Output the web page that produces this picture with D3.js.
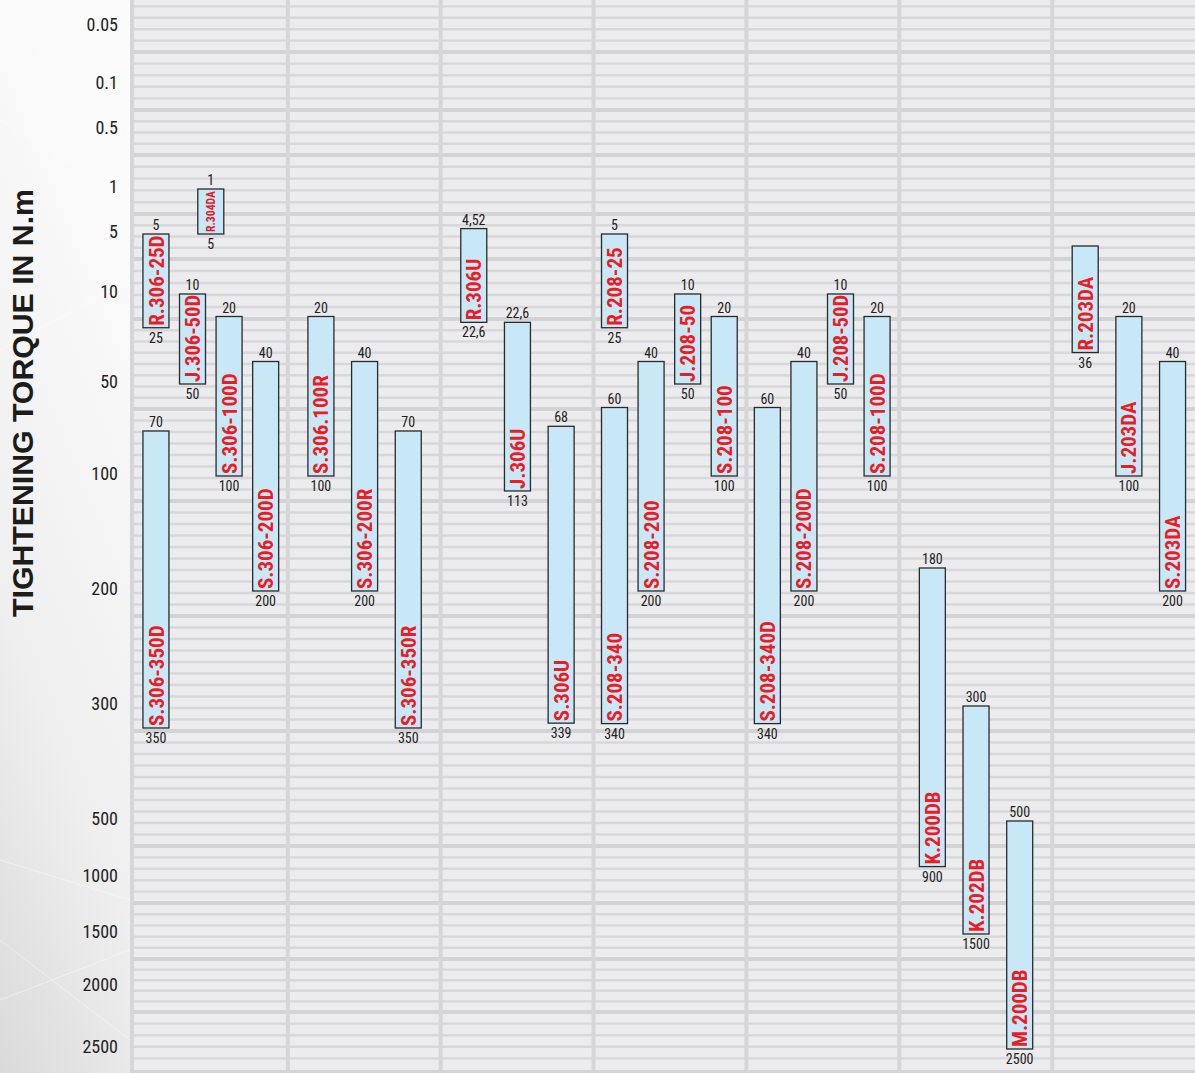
<!DOCTYPE html>
<html><head><meta charset="utf-8">
<script src="https://cdn.jsdelivr.net/npm/d3@7"></script>
<style>
html,body{margin:0;padding:0;background:#fff;}
svg{display:block;}
</style></head><body>
<svg id="chart" width="1195" height="1073"></svg>
<script>
// ---------- DATA ----------
const tickValues = [0.05, 0.1, 0.5, 1, 5, 10, 50, 100, 200, 300, 500, 1000, 1500, 2000, 2500];
const tickLabels = ["0.05", "0.1", "0.5", "1", "5", "10", "50", "100", "200", "300", "500", "1000", "1500", "2000", "2500"];

const names  = ["R.306-25D","S.306-350D","J.306-50D","R.304DA","S.306-100D","S.306-200D",
                "S.306.100R","S.306-200R","S.306-350R",
                "R.306U","J.306U","S.306U",
                "R.208-25","S.208-340","S.208-200","J.208-50","S.208-100",
                "S.208-340D","S.208-200D","J.208-50D","S.208-100D",
                "K.200DB","K.202DB","M.200DB",
                "R.203DA","J.203DA","S.203DA"];
const groups = [0,0,0,0,0,0, 1,1,1, 2,2,2, 3,3,3,3,3, 4,4,4,4, 5,5,5, 6,6,6];
const slots  = [0,0,1,1.5,2,3, 0,1,2, 0,1,2, 0,0,1,2,3, 0,1,2,3, 0,1,2, 0,1,2];
const minTorque = [5,70,10,1,20,40, 20,40,70, 4.52,22.6,68, 5,60,40,10,20, 60,40,10,20, 180,300,500, 6,20,40];
const maxTorque = [25,350,50,5,100,200, 100,200,350, 22.6,113,339, 25,340,200,50,100, 340,200,50,100, 900,1500,2500, 36,100,200];
const minLabels = ["5","70","10","1","20","40", "20","40","70", "4,52","22,6","68", "5","60","40","10","20", "60","40","10","20", "180","300","500", "","20","40"];
const maxLabels = ["25","350","50","5","100","200", "100","200","350", "22,6","113","339", "25","340","200","50","100", "340","200","50","100", "900","1500","2500", "36","100","200"];
const nGroups = 7;

// ---------- SETUP ----------
const W = 1195, H = 1073;
const svg = d3.select("#chart");
const NARROW = "'Liberation Sans Narrow','Arial Narrow','Roboto Condensed','DejaVu Sans Condensed',sans-serif";

// polylinear (non-uniform) torque scale, as in the original chart
const y = d3.scaleLinear()
  .domain([0.05, 0.1, 0.5, 1, 5, 10, 50, 70, 100, 200, 300, 350, 500, 1000, 1500, 2000, 2500])
  .range([27, 85, 130, 189, 234, 294, 384, 431, 476, 591, 706, 728, 821, 878, 934, 987, 1049]);

const xCol = d3.scaleBand().domain(d3.range(nGroups)).range([134, 1204]).paddingInner(0);
const slotsPerGroup = d3.range(nGroups).map(g => Math.floor(d3.max(slots.filter((s, i) => groups[i] === g))) + 1);
function xCenter(i) {
  const g = groups[i], n = slotsPerGroup[g];
  const padL = n >= 4 ? 0.6 : 0.78, padR = n >= 4 ? 0.58 : 0.72;
  const s = d3.scaleLinear().domain([-padL, n - 1 + padR]).range([xCol(g), xCol(g) + xCol.bandwidth()]);
  return s(slots[i]);
}

// ---------- BACKGROUND ----------
const defs = svg.append("defs");
const lg = defs.append("linearGradient").attr("id", "leftbg").attr("x1", 0.3).attr("y1", 0).attr("x2", 0).attr("y2", 1);
lg.append("stop").attr("offset", 0).attr("stop-color", "#fbfbfb");
lg.append("stop").attr("offset", 0.6).attr("stop-color", "#efefef");
lg.append("stop").attr("offset", 1).attr("stop-color", "#dadada");
svg.append("rect").attr("x", 0).attr("y", 0).attr("width", 132).attr("height", H).attr("fill", "url(#leftbg)");
const diag = [[0, 20, 130, 120], [0, 120, 130, 200], [0, 350, 130, 280], [0, 860, 130, 900], [0, 1000, 130, 950], [0, 940, 130, 1040]];
svg.append("g").selectAll("line").data(diag).join("line")
  .attr("x1", d => d[0]).attr("y1", d => d[1]).attr("x2", d => d[2]).attr("y2", d => d[3])
  .attr("stroke", "#ffffff").attr("stroke-opacity", 0.45).attr("stroke-width", 1);

const plotBottom = 1070;
svg.append("rect").attr("x", 130).attr("y", 0).attr("width", W - 130).attr("height", H).attr("fill", "#ececee");

// horizontal stripes: thick separators under each tick, thin lines evenly between
const thickY = tickValues.map(v => y(v) + 25);
const thinY = [];
const bounds = [0].concat(thickY.filter(t => t < plotBottom)).concat([plotBottom]);
for (let k = 0; k < bounds.length - 1; k++) {
  const a = bounds[k], b = bounds[k + 1];
  if (k === 0) {
    for (let yy = b - 11.4; yy > 2; yy -= 11.4) thinY.push(yy);
  } else {
    const n = Math.max(1, Math.round((b - a) / 11.4));
    for (let j = 1; j < n; j++) thinY.push(a + (b - a) * j / n);
  }
}
const stripes = svg.append("g");
stripes.selectAll("line.thin").data(thinY).join("line").attr("class", "thin")
  .attr("x1", 132).attr("x2", W).attr("y1", d => d).attr("y2", d => d)
  .attr("stroke", "#d8d8da").attr("stroke-width", 2.4);
stripes.selectAll("line.thick").data(thickY.filter(t => t < plotBottom)).join("line").attr("class", "thick")
  .attr("x1", 132).attr("x2", W).attr("y1", d => d).attr("y2", d => d)
  .attr("stroke", "#d3d3d5").attr("stroke-width", 4);
svg.append("rect").attr("x", 130).attr("y", plotBottom).attr("width", W - 130).attr("height", H - plotBottom).attr("fill", "#d4d4d6");

// vertical column dividers
const divX = [132].concat(d3.range(1, nGroups).map(g => xCol(g) + 1));
svg.append("g").selectAll("line").data(divX).join("line")
  .attr("x1", d => d).attr("x2", d => d).attr("y1", 0).attr("y2", plotBottom)
  .attr("stroke", "#d6d6d8").attr("stroke-width", 4);

// ---------- AXIS ----------
const axis = d3.axisLeft(y).tickValues(tickValues).tickSize(0).tickPadding(0)
  .tickFormat((d, i) => tickLabels[i]);
const gAxis = svg.append("g").attr("transform", "translate(118,0)").call(axis);
gAxis.select(".domain").remove();
gAxis.selectAll("text")
  .attr("font-family", NARROW).attr("font-size", 18).attr("fill", "#222")
  .attr("dy", "0.32em").attr("y", -2);

// title
svg.append("text")
  .attr("transform", "translate(33,403) rotate(-90)")
  .attr("text-anchor", "middle")
  .attr("font-family", "'Liberation Sans',Arial,sans-serif").attr("font-weight", 900)
  .attr("font-size", 30).attr("fill", "#1c1c1c")
  .attr("textLength", 428).attr("lengthAdjust", "spacingAndGlyphs")
  .text("TIGHTENING TORQUE IN N.m");

// ---------- BARS ----------
const idx = d3.range(names.length);
const BW = 26;
svg.append("g").selectAll("rect").data(idx).join("rect")
  .attr("x", i => xCenter(i) - BW / 2)
  .attr("y", i => y(minTorque[i]))
  .attr("width", BW)
  .attr("height", i => y(maxTorque[i]) - y(minTorque[i]))
  .attr("fill", "#c8e8f8").attr("stroke", "#2a2a2a").attr("stroke-width", 1.3);

// value labels
const gVals = svg.append("g").attr("font-family", NARROW).attr("font-size", 14).attr("fill", "#222").attr("text-anchor", "middle");
gVals.selectAll("text.top").data(idx.filter(i => minLabels[i] !== "")).join("text").attr("class", "top")
  .attr("x", i => xCenter(i)).attr("y", i => y(minTorque[i]) - 4).text(i => minLabels[i]);
gVals.selectAll("text.bot").data(idx).join("text").attr("class", "bot")
  .attr("x", i => xCenter(i)).attr("y", i => y(maxTorque[i]) + 15).text(i => maxLabels[i]);

// product names (rotated, reading upwards from the bar bottom)
svg.append("g").selectAll("text").data(idx).join("text")
  .attr("font-family", NARROW).attr("font-weight", "bold").attr("fill", "#ec1c24")
  .attr("font-size", 21)
  .text(i => names[i])
  .each(function (i) {
    const el = d3.select(this);
    const barLen = y(maxTorque[i]) - y(minTorque[i]);
    const avail = barLen - 3;
    let fs = 21;
    const len = this.getComputedTextLength();
    if (len > avail) {
      if (barLen < 60) {
        fs = 13;
        el.attr("textLength", avail - 1).attr("lengthAdjust", "spacingAndGlyphs");
      } else {
        el.attr("textLength", avail).attr("lengthAdjust", "spacingAndGlyphs");
      }
    }
    el.attr("font-size", fs)
      .attr("transform", `translate(${xCenter(i) + fs * 0.36},${y(maxTorque[i]) - 2}) rotate(-90)`);
  });
</script>
</body></html>
